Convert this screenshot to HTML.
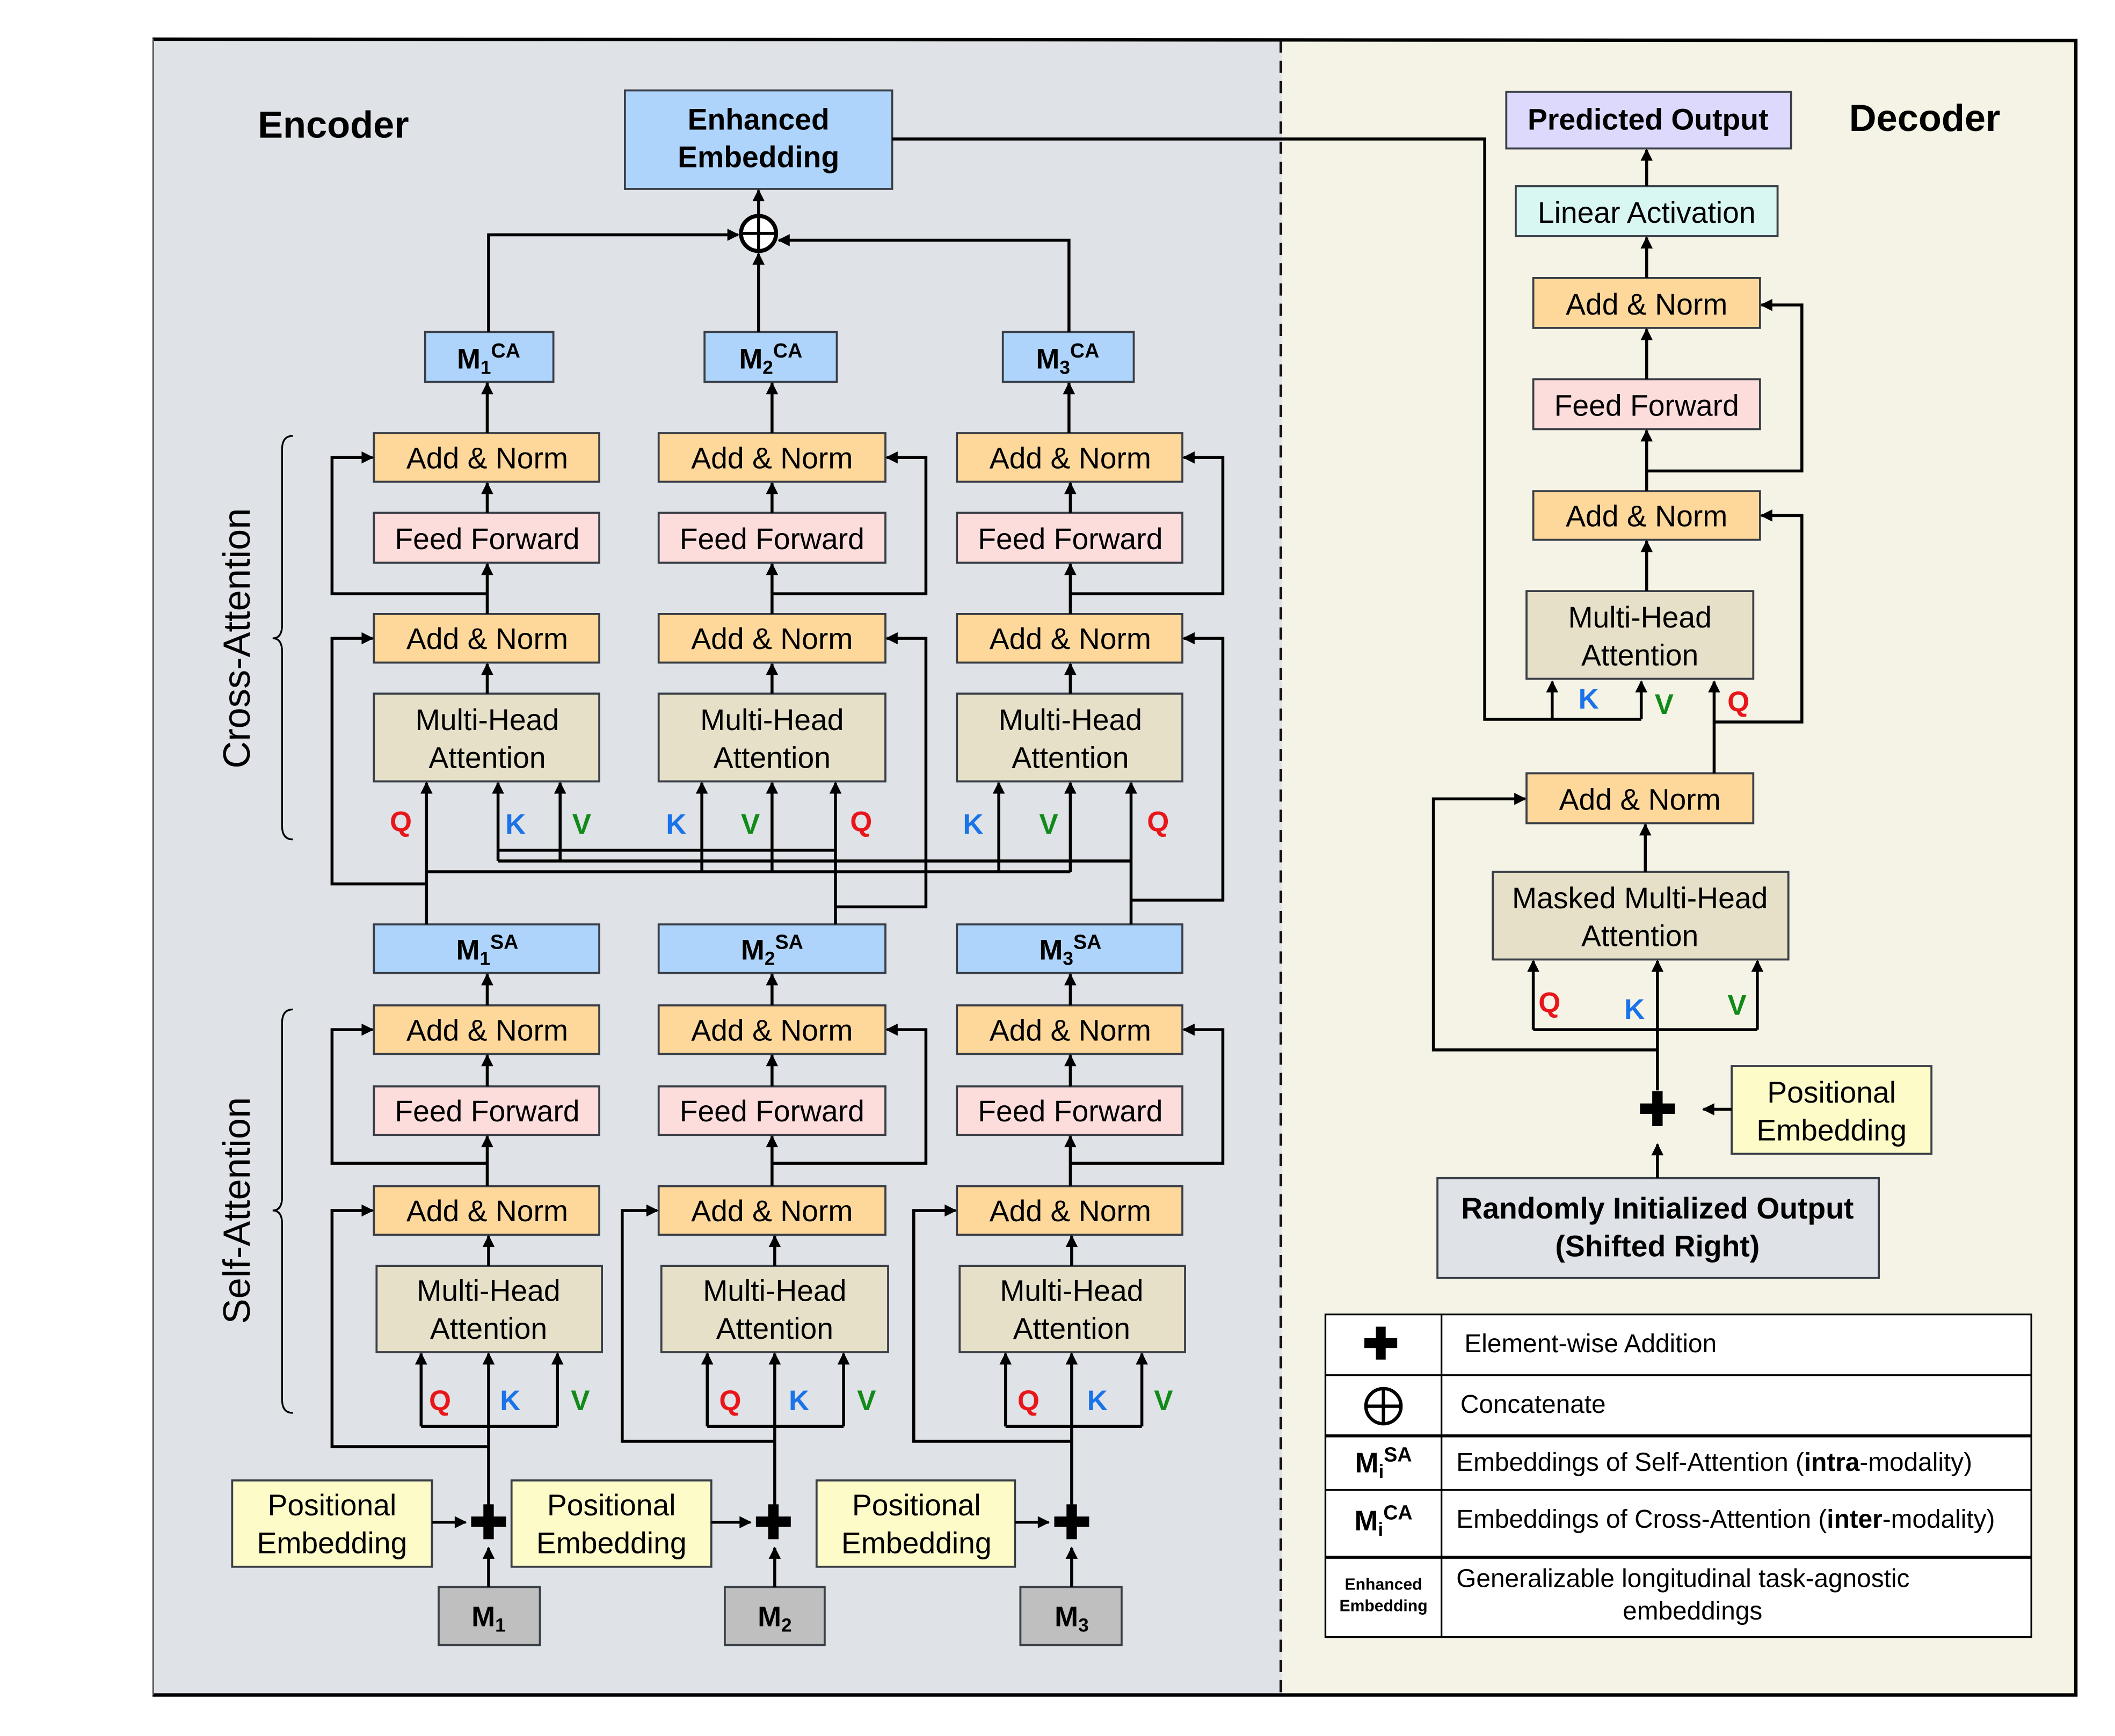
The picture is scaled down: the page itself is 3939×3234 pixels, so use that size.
<!DOCTYPE html>
<html><head><meta charset="utf-8"><style>html,body{margin:0;padding:0;background:#fff}svg{display:block}</style></head><body>
<svg width="3939" height="3234" viewBox="0 0 1567 1286.4" preserveAspectRatio="none" xmlns="http://www.w3.org/2000/svg" font-family="Liberation Sans, sans-serif">
<defs>
<marker id="a" viewBox="0 0 10 10" refX="9" refY="5" markerWidth="6" markerHeight="6" orient="auto" markerUnits="userSpaceOnUse"><path d="M0,0 L10,5 L0,10 z" fill="#000"/></marker>
<marker id="b" viewBox="0 0 10 10" refX="9" refY="5" markerWidth="10" markerHeight="9" orient="auto" markerUnits="userSpaceOnUse"><path d="M0,0 L10,5 L0,10 z" fill="#000"/></marker>
</defs>
<rect x="0" y="0" width="1567" height="1287" fill="#fff"/>
<rect x="113" y="29" width="837" height="1227" fill="#dfe2e7"/>
<rect x="950" y="30" width="588" height="1226" fill="#f5f3e6"/>
<path d="M113,29 L1538,30 L1538,1256 L113,1256" fill="none" stroke="#000" stroke-width="2.5"/>
<line x1="113.5" y1="29" x2="113.5" y2="1256" stroke="#555" stroke-width="1.2"/>
<line x1="949" y1="30" x2="949" y2="1256" stroke="#111" stroke-width="2" stroke-dasharray="9,6"/>

<text x="191" y="102" font-size="28" font-weight="bold">Encoder</text>
<text x="1370" y="97" font-size="28" font-weight="bold">Decoder</text>
<text transform="translate(185,473) rotate(-90)" font-size="28" text-anchor="middle">Cross-Attention</text>
<text transform="translate(185,897) rotate(-90)" font-size="28" text-anchor="middle">Self-Attention</text>
<path d="M217,323 Q209,323 209,333 L209,463 Q209,473 202,473 Q209,473 209,483 L209,612 Q209,622 217,622" fill="none" stroke="#000" stroke-width="1.3"/>
<path d="M217,748 Q209,748 209,758 L209,887 Q209,897 202,897 Q209,897 209,907 L209,1037 Q209,1047 217,1047" fill="none" stroke="#000" stroke-width="1.3"/>

<g stroke="#3a3f47" stroke-width="1.5" font-size="22" text-anchor="middle">
<rect x="325" y="1176" width="75" height="43" fill="#bfbfbf"/>
<rect x="172" y="1097" width="148" height="64" fill="#fdfbc8"/>
<rect x="279" y="938" width="167" height="64" fill="#e6e0c8"/>
<rect x="277" y="879" width="167" height="36" fill="#fed89a"/>
<rect x="277" y="805" width="167" height="36" fill="#fddcdc"/>
<rect x="277" y="745" width="167" height="36" fill="#fed89a"/>
<rect x="277" y="685" width="167" height="36" fill="#aed4fb"/>
<rect x="277" y="514" width="167" height="65" fill="#e6e0c8"/>
<rect x="277" y="455" width="167" height="36" fill="#fed89a"/>
<rect x="277" y="380" width="167" height="37" fill="#fddcdc"/>
<rect x="277" y="321" width="167" height="36" fill="#fed89a"/>
<rect x="315" y="246" width="95" height="37" fill="#aed4fb"/>

<rect x="537" y="1176" width="74" height="43" fill="#bfbfbf"/>
<rect x="379" y="1097" width="148" height="64" fill="#fdfbc8"/>
<rect x="490" y="938" width="168" height="64" fill="#e6e0c8"/>
<rect x="488" y="879" width="168" height="36" fill="#fed89a"/>
<rect x="488" y="805" width="168" height="36" fill="#fddcdc"/>
<rect x="488" y="745" width="168" height="36" fill="#fed89a"/>
<rect x="488" y="685" width="168" height="36" fill="#aed4fb"/>
<rect x="488" y="514" width="168" height="65" fill="#e6e0c8"/>
<rect x="488" y="455" width="168" height="36" fill="#fed89a"/>
<rect x="488" y="380" width="168" height="37" fill="#fddcdc"/>
<rect x="488" y="321" width="168" height="36" fill="#fed89a"/>
<rect x="522" y="246" width="98" height="37" fill="#aed4fb"/>

<rect x="756" y="1176" width="75" height="43" fill="#bfbfbf"/>
<rect x="605" y="1097" width="147" height="64" fill="#fdfbc8"/>
<rect x="711" y="938" width="167" height="64" fill="#e6e0c8"/>
<rect x="709" y="879" width="167" height="36" fill="#fed89a"/>
<rect x="709" y="805" width="167" height="36" fill="#fddcdc"/>
<rect x="709" y="745" width="167" height="36" fill="#fed89a"/>
<rect x="709" y="685" width="167" height="36" fill="#aed4fb"/>
<rect x="709" y="514" width="167" height="65" fill="#e6e0c8"/>
<rect x="709" y="455" width="167" height="36" fill="#fed89a"/>
<rect x="709" y="380" width="167" height="37" fill="#fddcdc"/>
<rect x="709" y="321" width="167" height="36" fill="#fed89a"/>
<rect x="743" y="246" width="97" height="37" fill="#aed4fb"/>

<rect x="463" y="67" width="198" height="73" fill="#aed4fb"/>

<rect x="1116" y="68" width="211" height="42" fill="#ddd9fd"/>
<rect x="1123" y="138" width="194" height="37" fill="#d8f7f3"/>
<rect x="1136" y="206" width="168" height="37" fill="#fed89a"/>
<rect x="1136" y="281" width="168" height="37" fill="#fddcdc"/>
<rect x="1136" y="364" width="168" height="36" fill="#fed89a"/>
<rect x="1131" y="438" width="168" height="65" fill="#e6e0c8"/>
<rect x="1131" y="573" width="168" height="37" fill="#fed89a"/>
<rect x="1106" y="646" width="219" height="65" fill="#e6e0c8"/>
<rect x="1283" y="790" width="148" height="65" fill="#fdfbc8"/>
<rect x="1065" y="873" width="327" height="74" fill="#dfe2e7"/>
</g>

<g font-size="22" text-anchor="middle" fill="#000">
<text x="246" y="1123">Positional</text><text x="246" y="1151">Embedding</text>
<text x="453" y="1123">Positional</text><text x="453" y="1151">Embedding</text>
<text x="679" y="1123">Positional</text><text x="679" y="1151">Embedding</text>
<text x="362" y="964">Multi-Head</text><text x="362" y="992">Attention</text>
<text x="574" y="964">Multi-Head</text><text x="574" y="992">Attention</text>
<text x="794" y="964">Multi-Head</text><text x="794" y="992">Attention</text>
<text x="361" y="541">Multi-Head</text><text x="361" y="569">Attention</text>
<text x="572" y="541">Multi-Head</text><text x="572" y="569">Attention</text>
<text x="793" y="541">Multi-Head</text><text x="793" y="569">Attention</text>
<text x="361" y="905">Add &amp; Norm</text><text x="572" y="905">Add &amp; Norm</text><text x="793" y="905">Add &amp; Norm</text>
<text x="361" y="831">Feed Forward</text><text x="572" y="831">Feed Forward</text><text x="793" y="831">Feed Forward</text>
<text x="361" y="771">Add &amp; Norm</text><text x="572" y="771">Add &amp; Norm</text><text x="793" y="771">Add &amp; Norm</text>
<text x="361" y="481">Add &amp; Norm</text><text x="572" y="481">Add &amp; Norm</text><text x="793" y="481">Add &amp; Norm</text>
<text x="361" y="407">Feed Forward</text><text x="572" y="407">Feed Forward</text><text x="793" y="407">Feed Forward</text>
<text x="361" y="347">Add &amp; Norm</text><text x="572" y="347">Add &amp; Norm</text><text x="793" y="347">Add &amp; Norm</text>
<g font-weight="bold">
<text x="362" y="1205" font-size="21">M<tspan font-size="14" dy="4">1</tspan></text>
<text x="574" y="1205" font-size="21">M<tspan font-size="14" dy="4">2</tspan></text>
<text x="794" y="1205" font-size="21">M<tspan font-size="14" dy="4">3</tspan></text>
<text x="361" y="711" font-size="21">M<tspan font-size="14" dy="4">1</tspan><tspan font-size="15" dy="-12">SA</tspan></text>
<text x="572" y="711" font-size="21">M<tspan font-size="14" dy="4">2</tspan><tspan font-size="15" dy="-12">SA</tspan></text>
<text x="793" y="711" font-size="21">M<tspan font-size="14" dy="4">3</tspan><tspan font-size="15" dy="-12">SA</tspan></text>
<text x="362" y="273" font-size="21">M<tspan font-size="14" dy="4">1</tspan><tspan font-size="15" dy="-12">CA</tspan></text>
<text x="571" y="273" font-size="21">M<tspan font-size="14" dy="4">2</tspan><tspan font-size="15" dy="-12">CA</tspan></text>
<text x="791" y="273" font-size="21">M<tspan font-size="14" dy="4">3</tspan><tspan font-size="15" dy="-12">CA</tspan></text>
<text x="562" y="96">Enhanced</text><text x="562" y="124">Embedding</text>
<text x="1221" y="96">Predicted Output</text>
<text x="1228" y="903">Randomly Initialized Output</text><text x="1228" y="931">(Shifted Right)</text>
</g>
<text x="1220" y="165">Linear Activation</text>
<text x="1220" y="233">Add &amp; Norm</text>
<text x="1220" y="308">Feed Forward</text>
<text x="1220" y="390">Add &amp; Norm</text>
<text x="1215" y="465">Multi-Head</text><text x="1215" y="493">Attention</text>
<text x="1215" y="600">Add &amp; Norm</text>
<text x="1215" y="673">Masked Multi-Head</text><text x="1215" y="701">Attention</text>
<text x="1357" y="817">Positional</text><text x="1357" y="845">Embedding</text>
</g>

<g font-size="21" font-weight="bold" text-anchor="middle">
<text x="326" y="1045" fill="#e8161a">Q</text><text x="378" y="1045" fill="#1a73e8">K</text><text x="430" y="1045" fill="#118a1a">V</text>
<text x="541" y="1045" fill="#e8161a">Q</text><text x="592" y="1045" fill="#1a73e8">K</text><text x="642" y="1045" fill="#118a1a">V</text>
<text x="762" y="1045" fill="#e8161a">Q</text><text x="813" y="1045" fill="#1a73e8">K</text><text x="862" y="1045" fill="#118a1a">V</text>
<text x="297" y="616" fill="#e8161a">Q</text><text x="382" y="618" fill="#1a73e8">K</text><text x="431" y="618" fill="#118a1a">V</text>
<text x="501" y="618" fill="#1a73e8">K</text><text x="556" y="618" fill="#118a1a">V</text><text x="638" y="616" fill="#e8161a">Q</text>
<text x="721" y="618" fill="#1a73e8">K</text><text x="777" y="618" fill="#118a1a">V</text><text x="858" y="616" fill="#e8161a">Q</text>
<text x="1177" y="525" fill="#1a73e8">K</text><text x="1233" y="529" fill="#118a1a">V</text><text x="1288" y="527" fill="#e8161a">Q</text>
<text x="1148" y="750" fill="#e8161a">Q</text><text x="1211" y="755" fill="#1a73e8">K</text><text x="1287" y="752" fill="#118a1a">V</text>
</g>

<g font-size="34" font-weight="bold" text-anchor="middle">
<text x="362" y="1140">✚</text><text x="573" y="1140">✚</text><text x="794" y="1140">✚</text><text x="1228" y="834">✚</text>
</g>

<g fill="none" stroke="#000" stroke-width="2.2">
<circle cx="562" cy="173" r="13" fill="#fff" stroke-width="3"/>
<line x1="549" y1="173" x2="575" y2="173"/><line x1="562" y1="160" x2="562" y2="186"/>
<line x1="562" y1="160" x2="562" y2="141" marker-end="url(#b)"/>
<path d="M362,246 L362,174 L547,174" marker-end="url(#b)"/>
<line x1="562" y1="246" x2="562" y2="188" marker-end="url(#b)"/>
<path d="M792,246 L792,178 L577,178" marker-end="url(#b)"/>
<path d="M661,103 L1100,103 L1100,533 L1216,533" />
<line x1="1150" y1="533" x2="1150" y2="505" marker-end="url(#b)"/>
<line x1="1216" y1="533" x2="1216" y2="505" marker-end="url(#b)"/>

<line x1="362" y1="1176" x2="362" y2="1147" marker-end="url(#b)"/>
<line x1="320" y1="1128" x2="345" y2="1128" marker-end="url(#b)"/>
<path d="M362,1115 L362,1003" marker-end="url(#b)"/>
<path d="M312,1057 L413,1057"/>
<line x1="312" y1="1057" x2="312" y2="1003" marker-end="url(#b)"/>
<line x1="413" y1="1057" x2="413" y2="1003" marker-end="url(#b)"/>
<path d="M362,1072 L246,1072 L246,897 L276,897" marker-end="url(#b)"/>
<line x1="362" y1="938" x2="362" y2="916" marker-end="url(#b)"/>
<line x1="361" y1="879" x2="361" y2="842" marker-end="url(#b)"/>
<line x1="361" y1="805" x2="361" y2="782" marker-end="url(#b)"/>
<path d="M361,862 L246,862 L246,763 L276,763" marker-end="url(#b)"/>
<line x1="361" y1="745" x2="361" y2="722" marker-end="url(#b)"/>

<line x1="574" y1="1176" x2="574" y2="1147" marker-end="url(#b)"/>
<line x1="527" y1="1128" x2="556" y2="1128" marker-end="url(#b)"/>
<line x1="574" y1="1115" x2="574" y2="1003" marker-end="url(#b)"/>
<path d="M524,1057 L625,1057"/>
<line x1="524" y1="1057" x2="524" y2="1003" marker-end="url(#b)"/>
<line x1="625" y1="1057" x2="625" y2="1003" marker-end="url(#b)"/>
<path d="M574,1068 L461,1068 L461,897 L487,897" marker-end="url(#b)"/>
<line x1="574" y1="938" x2="574" y2="916" marker-end="url(#b)"/>
<line x1="572" y1="879" x2="572" y2="842" marker-end="url(#b)"/>
<line x1="572" y1="805" x2="572" y2="782" marker-end="url(#b)"/>
<path d="M572,862 L686,862 L686,763 L657,763" marker-end="url(#b)"/>
<line x1="572" y1="745" x2="572" y2="722" marker-end="url(#b)"/>

<line x1="794" y1="1176" x2="794" y2="1147" marker-end="url(#b)"/>
<line x1="752" y1="1128" x2="777" y2="1128" marker-end="url(#b)"/>
<line x1="794" y1="1115" x2="794" y2="1003" marker-end="url(#b)"/>
<path d="M745,1057 L846,1057"/>
<line x1="745" y1="1057" x2="745" y2="1003" marker-end="url(#b)"/>
<line x1="846" y1="1057" x2="846" y2="1003" marker-end="url(#b)"/>
<path d="M794,1068 L677,1068 L677,897 L708,897" marker-end="url(#b)"/>
<line x1="794" y1="938" x2="794" y2="916" marker-end="url(#b)"/>
<line x1="793" y1="879" x2="793" y2="842" marker-end="url(#b)"/>
<line x1="793" y1="805" x2="793" y2="782" marker-end="url(#b)"/>
<path d="M793,862 L906,862 L906,763 L877,763" marker-end="url(#b)"/>
<line x1="793" y1="745" x2="793" y2="722" marker-end="url(#b)"/>

<line x1="316" y1="685" x2="316" y2="580" marker-end="url(#b)"/>
<line x1="619" y1="685" x2="619" y2="580" marker-end="url(#b)"/>
<line x1="838" y1="685" x2="838" y2="580" marker-end="url(#b)"/>
<line x1="369" y1="638" x2="369" y2="580" marker-end="url(#b)"/>
<line x1="415" y1="638" x2="415" y2="580" marker-end="url(#b)"/>
<line x1="520" y1="646" x2="520" y2="580" marker-end="url(#b)"/>
<line x1="572" y1="646" x2="572" y2="580" marker-end="url(#b)"/>
<line x1="740" y1="646" x2="740" y2="580" marker-end="url(#b)"/>
<line x1="793" y1="646" x2="793" y2="580" marker-end="url(#b)"/>
<path d="M369,630 L619,630"/>
<path d="M369,638 L838,638"/>
<path d="M316,646 L793,646"/>
<path d="M316,655 L246,655 L246,473 L276,473" marker-end="url(#b)"/>
<path d="M619,672 L686,672 L686,473 L657,473" marker-end="url(#b)"/>
<path d="M838,667 L906,667 L906,473 L877,473" marker-end="url(#b)"/>
<line x1="361" y1="514" x2="361" y2="492" marker-end="url(#b)"/>
<line x1="572" y1="514" x2="572" y2="492" marker-end="url(#b)"/>
<line x1="793" y1="514" x2="793" y2="492" marker-end="url(#b)"/>
<line x1="361" y1="455" x2="361" y2="418" marker-end="url(#b)"/>
<line x1="572" y1="455" x2="572" y2="418" marker-end="url(#b)"/>
<line x1="793" y1="455" x2="793" y2="418" marker-end="url(#b)"/>
<line x1="361" y1="380" x2="361" y2="358" marker-end="url(#b)"/>
<line x1="572" y1="380" x2="572" y2="358" marker-end="url(#b)"/>
<line x1="793" y1="380" x2="793" y2="358" marker-end="url(#b)"/>
<path d="M361,440 L246,440 L246,339 L276,339" marker-end="url(#b)"/>
<path d="M572,440 L686,440 L686,339 L657,339" marker-end="url(#b)"/>
<path d="M793,440 L906,440 L906,339 L877,339" marker-end="url(#b)"/>
<line x1="361" y1="321" x2="361" y2="284" marker-end="url(#b)"/>
<line x1="572" y1="321" x2="572" y2="284" marker-end="url(#b)"/>
<line x1="792" y1="321" x2="792" y2="284" marker-end="url(#b)"/>

<line x1="1228" y1="873" x2="1228" y2="848" marker-end="url(#b)"/>
<line x1="1283" y1="822" x2="1262" y2="822" marker-end="url(#b)"/>
<line x1="1228" y1="808" x2="1228" y2="712" marker-end="url(#b)"/>
<path d="M1136,763 L1302,763"/>
<line x1="1136" y1="763" x2="1136" y2="712" marker-end="url(#b)"/>
<line x1="1302" y1="763" x2="1302" y2="712" marker-end="url(#b)"/>
<path d="M1228,778 L1062,778 L1062,592 L1130,592" marker-end="url(#b)"/>
<line x1="1219" y1="646" x2="1219" y2="611" marker-end="url(#b)"/>
<line x1="1270" y1="573" x2="1270" y2="505" marker-end="url(#b)"/>
<path d="M1270,535 L1335,535 L1335,382 L1305,382" marker-end="url(#b)"/>
<line x1="1220" y1="438" x2="1220" y2="401" marker-end="url(#b)"/>
<line x1="1220" y1="364" x2="1220" y2="319" marker-end="url(#b)"/>
<path d="M1220,349 L1335,349 L1335,226 L1305,226" marker-end="url(#b)"/>
<line x1="1220" y1="281" x2="1220" y2="244" marker-end="url(#b)"/>
<line x1="1220" y1="206" x2="1220" y2="176" marker-end="url(#b)"/>
<line x1="1220" y1="138" x2="1220" y2="111" marker-end="url(#b)"/>
</g>

<g stroke="#000" fill="none">
<rect x="982" y="974" width="523" height="239" fill="#fff" stroke-width="1.3"/>
<line x1="1068" y1="974" x2="1068" y2="1213" stroke-width="1.3"/>
<line x1="982" y1="1019" x2="1505" y2="1019" stroke-width="1.3"/>
<line x1="982" y1="1064" x2="1505" y2="1064" stroke-width="2.2"/>
<line x1="982" y1="1104" x2="1505" y2="1104" stroke-width="1.3"/>
<line x1="982" y1="1154" x2="1505" y2="1154" stroke-width="2.2"/>
<circle cx="1025" cy="1042" r="13" stroke-width="2.5"/>
<line x1="1012" y1="1042" x2="1038" y2="1042" stroke-width="2.5"/><line x1="1025" y1="1029" x2="1025" y2="1055" stroke-width="2.5"/>
</g>
<g font-size="19">
<text x="1023" y="1007" font-size="32" font-weight="bold" text-anchor="middle">✚</text>
<text x="1085" y="1002">Element-wise Addition</text>
<text x="1082" y="1047">Concatenate</text>
<text x="1079" y="1090">Embeddings of Self-Attention (<tspan font-weight="bold">intra</tspan>-modality)</text>
<text x="1079" y="1132">Embeddings of Cross-Attention (<tspan font-weight="bold">inter</tspan>-modality)</text>
<text x="1079" y="1176">Generalizable longitudinal task-agnostic</text>
<text x="1254" y="1200" text-anchor="middle">embeddings</text>
<text x="1025" y="1091" font-size="21" font-weight="bold" text-anchor="middle">M<tspan font-size="14" dy="4">i</tspan><tspan font-size="15" dy="-12">SA</tspan></text>
<text x="1025" y="1134" font-size="21" font-weight="bold" text-anchor="middle">M<tspan font-size="14" dy="4">i</tspan><tspan font-size="15" dy="-12">CA</tspan></text>
<text x="1025" y="1178" font-size="12" font-weight="bold" text-anchor="middle">Enhanced</text>
<text x="1025" y="1194" font-size="12" font-weight="bold" text-anchor="middle">Embedding</text>
</g>
</svg>
</body></html>
